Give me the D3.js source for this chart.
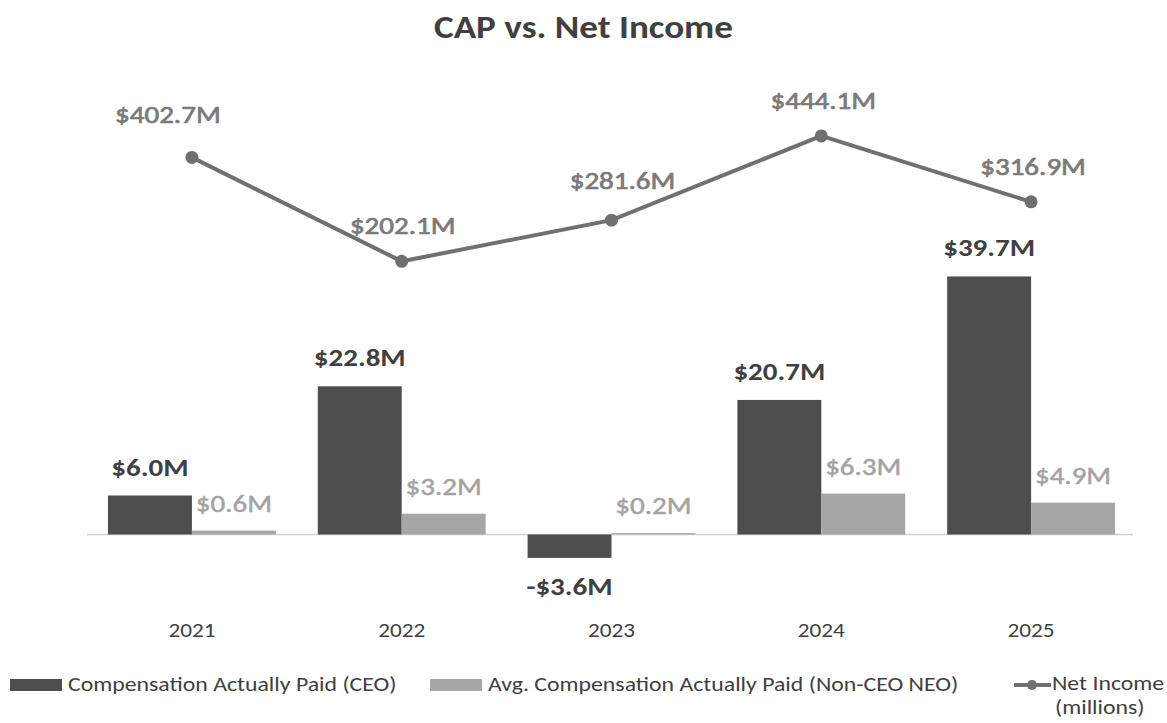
<!DOCTYPE html>
<html>
<head>
<meta charset="utf-8">
<script src="https://cdn.jsdelivr.net/npm/d3@7"></script>
<style>
  html, body { margin: 0; padding: 0; background: #fff; }
  svg { display: block; }
  text { font-family: Carlito, Calibri, "Open Sans", sans-serif; }
</style>
</head>
<body>
<svg id="chart" width="1167" height="723"></svg>
<script>
// Fiscal years on the x axis
const years = ["2021", "2022", "2023", "2024", "2025"];
// Compensation actually paid, $ millions
const ceoCap = [6.0, 22.8, -3.6, 20.7, 39.7];
const neoCap = [0.6, 3.2, 0.2, 6.3, 4.9];
// Net income, $ millions
const netIncome = [402.7, 202.1, 281.6, 444.1, 316.9];
// Legend entries
const seriesNames = ["Compensation Actually Paid (CEO)", "Avg. Compensation Actually Paid (Non-CEO NEO)", "Net Income"];

const W = 1167, H = 723;
const colors = { ceo: "#4e4e4e", neo: "#a6a6a6", line: "#707070", axis: "#d0d0d0", text: "#404040" };
const STRETCH = 1.16;   // horizontal widening of all type

const svg = d3.select("#chart");

// widen text glyphs horizontally by a fixed factor
function widen(sel, k = STRETCH) {
  sel.each(function () {
    const len = this.getComputedTextLength();
    d3.select(this).attr("textLength", len * k).attr("lengthAdjust", "spacingAndGlyphs");
  });
  return sel;
}

// Title
svg.append("text")
  .attr("x", W / 2).attr("y", 38)
  .attr("text-anchor", "middle")
  .attr("font-size", 32).attr("font-weight", 700)
  .attr("fill", colors.text)
  .text("CAP vs. Net Income")
  .call(widen);

// Scales
const x = d3.scaleBand().domain(years).range([87, 1136]).paddingInner(0.2).paddingOuter(0.1);
const xSub = d3.scaleBand().domain(["ceo", "neo"]).range([0, x.bandwidth()]);
const y = d3.scaleLinear().domain([-10, 60]).range([599.5, 144.5]);  // compensation axis (hidden)
const y2 = d3.scaleLinear().domain([0, 500]).range([366, 107]);      // net income axis (hidden)

const fmtM = v => (v < 0 ? "-$" : "$") + Math.abs(v).toFixed(1) + "M";

// Category axis along zero
const xAxis = svg.append("g")
  .attr("transform", `translate(0,${y(0)})`)
  .call(d3.axisBottom(x).tickSize(0));
xAxis.select(".domain").attr("stroke", colors.axis).attr("stroke-width", 1.5)
  .attr("d", `M${x.range()[0]},0H${x.range()[1] - 3}`);
xAxis.selectAll(".tick text")
  .attr("y", 637 - y(0)).attr("dy", null)
  .attr("font-size", 20).attr("fill", colors.text)
  .style("font-family", "Carlito, Calibri, 'Open Sans', sans-serif")
  .call(widen);

// Bars
const groups = svg.append("g").selectAll("g").data(years).join("g")
  .attr("transform", d => `translate(${x(d)},0)`);

groups.append("rect")
  .attr("x", xSub("ceo")).attr("width", xSub.bandwidth())
  .attr("y", (d, i) => y(Math.max(0, ceoCap[i])))
  .attr("height", (d, i) => Math.abs(y(ceoCap[i]) - y(0)))
  .attr("fill", colors.ceo);

groups.append("rect")
  .attr("x", xSub("neo")).attr("width", xSub.bandwidth())
  .attr("y", (d, i) => y(Math.max(0, neoCap[i])))
  .attr("height", (d, i) => Math.abs(y(neoCap[i]) - y(0)))
  .attr("fill", colors.neo);

// Bar value labels
groups.append("text")
  .attr("x", xSub("ceo") + xSub.bandwidth() / 2)
  .attr("y", (d, i) => ceoCap[i] >= 0 ? y(ceoCap[i]) - 20 : y(ceoCap[i]) + 37)
  .attr("text-anchor", "middle")
  .attr("font-size", 25).attr("font-weight", 700).attr("fill", colors.text)
  .text((d, i) => fmtM(ceoCap[i]))
  .call(widen);

groups.append("text")
  .attr("x", xSub("neo") + xSub.bandwidth() / 2)
  .attr("y", (d, i) => y(neoCap[i]) - 19)
  .attr("text-anchor", "middle")
  .attr("font-size", 25).attr("fill", "#a3a3a3")
  .attr("stroke", "#a3a3a3").attr("stroke-width", 0.5)
  .text((d, i) => fmtM(neoCap[i]))
  .call(widen);

// Net income line
const cx = d => x(d) + x.bandwidth() / 2;
svg.append("path")
  .datum(years)
  .attr("fill", "none").attr("stroke", colors.line).attr("stroke-width", 4)
  .attr("d", d3.line().x(d => cx(d)).y((d, i) => y2(netIncome[i])));

svg.append("g").selectAll("circle").data(years).join("circle")
  .attr("cx", d => cx(d)).attr("cy", (d, i) => y2(netIncome[i]))
  .attr("r", 6.5).attr("fill", colors.line);

// Label nudges for the net income values (dx, dy from point)
const niLabelShift = [[-24, -34], [1, -27], [11, -31], [2, -27], [2, -27]];
svg.append("g").selectAll("text").data(years).join("text")
  .attr("x", (d, i) => cx(d) + niLabelShift[i][0])
  .attr("y", (d, i) => y2(netIncome[i]) + niLabelShift[i][1])
  .attr("text-anchor", "middle")
  .attr("font-size", 25).attr("fill", "#7a7a7a")
  .attr("stroke", "#7a7a7a").attr("stroke-width", 0.7)
  .text((d, i) => fmtM(netIncome[i]))
  .call(widen);

// Legend
const lg = svg.append("g").attr("font-size", 20.5).attr("fill", colors.text);
lg.append("rect").attr("x", 10).attr("y", 679).attr("width", 52).attr("height", 12).attr("fill", colors.ceo);
lg.append("text").attr("x", 68).attr("y", 691).text(seriesNames[0]).call(widen);
lg.append("rect").attr("x", 430).attr("y", 679).attr("width", 52).attr("height", 12).attr("fill", colors.neo);
lg.append("text").attr("x", 488).attr("y", 691).text(seriesNames[1]).call(widen);
lg.append("line").attr("x1", 1014).attr("x2", 1051).attr("y1", 685).attr("y2", 685)
  .attr("stroke", colors.line).attr("stroke-width", 4);
lg.append("circle").attr("cx", 1032).attr("cy", 685).attr("r", 5).attr("fill", colors.line);
lg.append("text").attr("x", 1052).attr("y", 690).text(seriesNames[2]).call(widen);
lg.append("text").attr("x", 1055).attr("y", 714).text("(millions)").call(widen);
</script>
</body>
</html>
